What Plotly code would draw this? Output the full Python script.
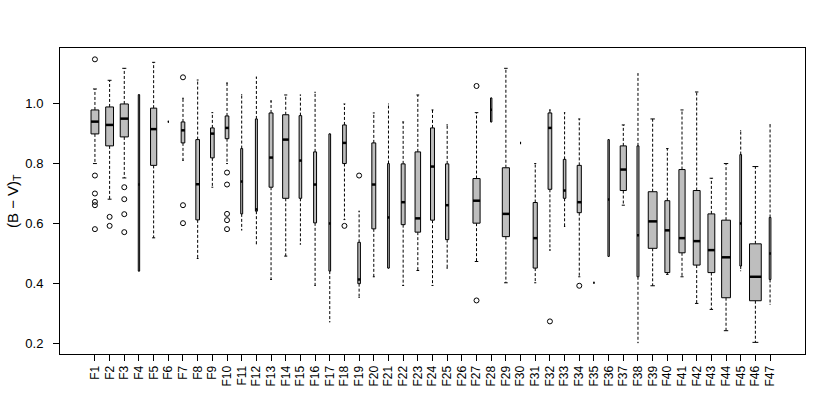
import numpy as np
import plotly.graph_objects as go

categories = ["F1", "F2", "F3", "F4", "F5", "F6", "F7", "F8", "F9", "F10",
              "F11", "F12", "F13", "F14", "F15", "F16", "F17", "F18", "F19", "F20",
              "F21", "F22", "F23", "F24", "F25", "F26", "F27", "F28", "F29", "F30",
              "F31", "F32", "F33", "F34", "F35", "F36", "F37", "F38", "F39", "F40",
              "F41", "F42", "F43", "F44", "F45", "F46", "F47"]

# estimated sample sizes (box widths ~ sqrt(n))
n_obs = [64, 64, 69, 2, 40, 1, 14, 14, 14, 14,
         4, 4, 16, 40, 7, 9, 3, 14, 7, 16,
         3, 16, 32, 16, 11, 0, 53, 2, 53, 1,
         18, 14, 7, 18, 1, 2, 40, 4, 81, 25,
         40, 49, 49, 81, 3, 144, 3]

lower_whisker = [0.800, 0.681, 0.752, 0.441, 0.552, 0.940, 0.811, 0.483, 0.721, 0.800,
                 0.578, 0.532, 0.413, 0.491, 0.531, 0.393, 0.271, 0.613, 0.353, 0.422,
                 0.451, 0.393, 0.443, 0.393, 0.451, None, 0.473, 0.939, 0.402, 0.869,
                 0.402, 0.511, 0.590, 0.422, 0.402, 0.490, 0.661, 0.202, 0.392, 0.430,
                 0.422, 0.333, 0.313, 0.242, 0.442, 0.203, 0.330]

q1 = [0.899, 0.859, 0.889, 0.441, 0.794, 0.940, 0.869, 0.612, 0.819, 0.883,
      0.632, 0.641, 0.721, 0.684, 0.684, 0.602, 0.441, 0.800, 0.399, 0.582,
      0.451, 0.596, 0.571, 0.611, 0.546, None, 0.601, 0.939, 0.556, 0.869,
      0.451, 0.714, 0.684, 0.636, 0.402, 0.490, 0.710, 0.422, 0.517, 0.436,
      0.502, 0.461, 0.436, 0.352, 0.458, 0.342, 0.413]

medians = [0.940, 0.929, 0.950, 0.730, 0.915, 0.940, 0.911, 0.731, 0.900, 0.919,
           0.740, 0.647, 0.820, 0.880, 0.810, 0.730, 0.600, 0.869, 0.413, 0.730,
           0.620, 0.671, 0.617, 0.790, 0.661, None, 0.676, 0.980, 0.632, 0.869,
           0.551, 0.919, 0.710, 0.671, 0.402, 0.680, 0.780, 0.561, 0.607, 0.577,
           0.551, 0.541, 0.511, 0.487, 0.600, 0.422, 0.500]

q3 = [0.979, 0.989, 0.999, 1.030, 0.985, 0.940, 0.939, 0.880, 0.919, 0.959,
      0.850, 0.949, 0.969, 0.963, 0.960, 0.839, 0.899, 0.929, 0.537, 0.869,
      0.800, 0.799, 0.839, 0.919, 0.799, None, 0.750, 1.019, 0.786, 0.869,
      0.670, 0.969, 0.814, 0.794, 0.402, 0.880, 0.859, 0.859, 0.706, 0.676,
      0.780, 0.710, 0.632, 0.611, 0.830, 0.532, 0.620]

upper_whisker = [1.049, 1.078, 1.118, 1.030, 1.138, 0.940, 1.018, 1.079, 0.970, 1.069,
                 1.030, 1.089, 1.009, 1.029, 1.029, 1.038, 0.899, 0.999, 0.641, 0.969,
                 0.999, 0.939, 1.029, 0.979, 0.929, None, 0.970, 1.019, 1.118, 0.869,
                 0.800, 0.979, 0.970, 0.949, 0.402, 0.880, 0.929, 1.100, 0.949, 0.850,
                 0.979, 1.039, 0.751, 0.800, 0.910, 0.790, 0.930]

outliers = [[1.148, 0.760, 0.700, 0.672, 0.661, 0.581], [0.622, 0.592], [0.721, 0.681, 0.631, 0.571], [], [],
            [], [1.088, 0.661, 0.601], [], [], [0.770, 0.730, 0.632, 0.611, 0.581],
            [], [], [], [], [], [], [], [0.592], [0.760], [],
            [], [], [], [], [], [], [1.059, 0.343], [], [], [],
            [], [0.273], [], [0.392], [], [], [], [], [], [],
            [], [], [], [], [], [], []]

y_ticks = [0.2, 0.4, 0.6, 0.8, 1.0]
y_tick_labels = ["0.2", "0.4", "0.6", "0.8", "1.0"]
y_title = "(B − V)<sub>T</sub>"

nmax = max(n for n in n_obs if n)
bx, by, mx, my, wx, wy, cx, cy, ox, oy = ([] for _ in range(10))
for i, cat in enumerate(categories):
    n = n_obs[i]
    x = i + 1
    for v in outliers[i]:
        ox.append(x); oy.append(v)
    if not n:
        continue
    hw = 0.4 * np.sqrt(n / nmax)
    wx += [x, x, None, x, x, None]
    wy += [q3[i], upper_whisker[i], None, q1[i], lower_whisker[i], None]
    cx += [x - hw / 2, x + hw / 2, None, x - hw / 2, x + hw / 2, None]
    cy += [upper_whisker[i], upper_whisker[i], None, lower_whisker[i], lower_whisker[i], None]
    bx += [x - hw, x + hw, x + hw, x - hw, x - hw, None]
    by += [q1[i], q1[i], q3[i], q3[i], q1[i], None]
    mx += [x - hw, x + hw, None]
    my += [medians[i], medians[i], None]

fig = go.Figure()
fig.add_trace(go.Scatter(x=wx, y=wy, mode="lines", hoverinfo="skip",
                         line=dict(color="black", width=1, dash="3px,2px")))
fig.add_trace(go.Scatter(x=cx, y=cy, mode="lines", hoverinfo="skip",
                         line=dict(color="black", width=1)))
fig.add_trace(go.Scatter(x=bx, y=by, mode="lines", fill="toself", fillcolor="#BEBEBE",
                         hoverinfo="skip", line=dict(color="black", width=1)))
fig.add_trace(go.Scatter(x=mx, y=my, mode="lines", hoverinfo="skip",
                         line=dict(color="black", width=2.5)))
fig.add_trace(go.Scatter(x=ox, y=oy, mode="markers", hoverinfo="skip",
                         marker=dict(symbol="circle-open", size=5, color="black",
                                     line=dict(width=1, color="black"))))

allv = [v for v in lower_whisker + upper_whisker if v is not None] + oy
lo, hi = min(allv), max(allv)
pad = 0.04 * (hi - lo)
nc = len(categories)
xpad = 0.04 * nc

L, R, T, B = 60, 25, 48, 61
W, H = 830, 415
fig.update_layout(
    width=W, height=H,
    margin=dict(l=L, r=R, t=T, b=B, autoexpand=False),
    plot_bgcolor="white", paper_bgcolor="white",
    showlegend=False,
    font=dict(family="Liberation Sans, Arial, sans-serif", color="black", size=12),
)
fig.update_xaxes(
    range=[0.5 - xpad, nc + 0.5 + xpad], automargin=False,
    tickmode="array", tickvals=list(range(1, nc + 1)), ticktext=categories,
    tickangle=-90, ticks="outside", ticklen=6, tickcolor="black",
    showline=True, mirror=True, linecolor="black", linewidth=1,
    showgrid=False, zeroline=False, tickfont=dict(size=12),
)
fig.update_yaxes(
    range=[lo - pad, hi + pad], automargin=False,
    tickmode="array", tickvals=y_ticks, ticktext=y_tick_labels,
    ticks="outside", ticklen=6, tickcolor="black", ticklabelstandoff=7,
    showline=True, mirror=True, linecolor="black", linewidth=1,
    showgrid=False, zeroline=False, tickfont=dict(size=13),
)
fig.add_annotation(
    text=y_title, xref="paper", yref="paper",
    x=(13 - L) / (W - L - R), y=0.5, xanchor="center", yanchor="middle",
    textangle=-90, showarrow=False, font=dict(size=15, color="black"),
)

fig.write_html("out.html", config={"displayModeBar": False, "staticPlot": True},
               post_script="document.body.style.margin='0';document.body.style.overflow='hidden';")
